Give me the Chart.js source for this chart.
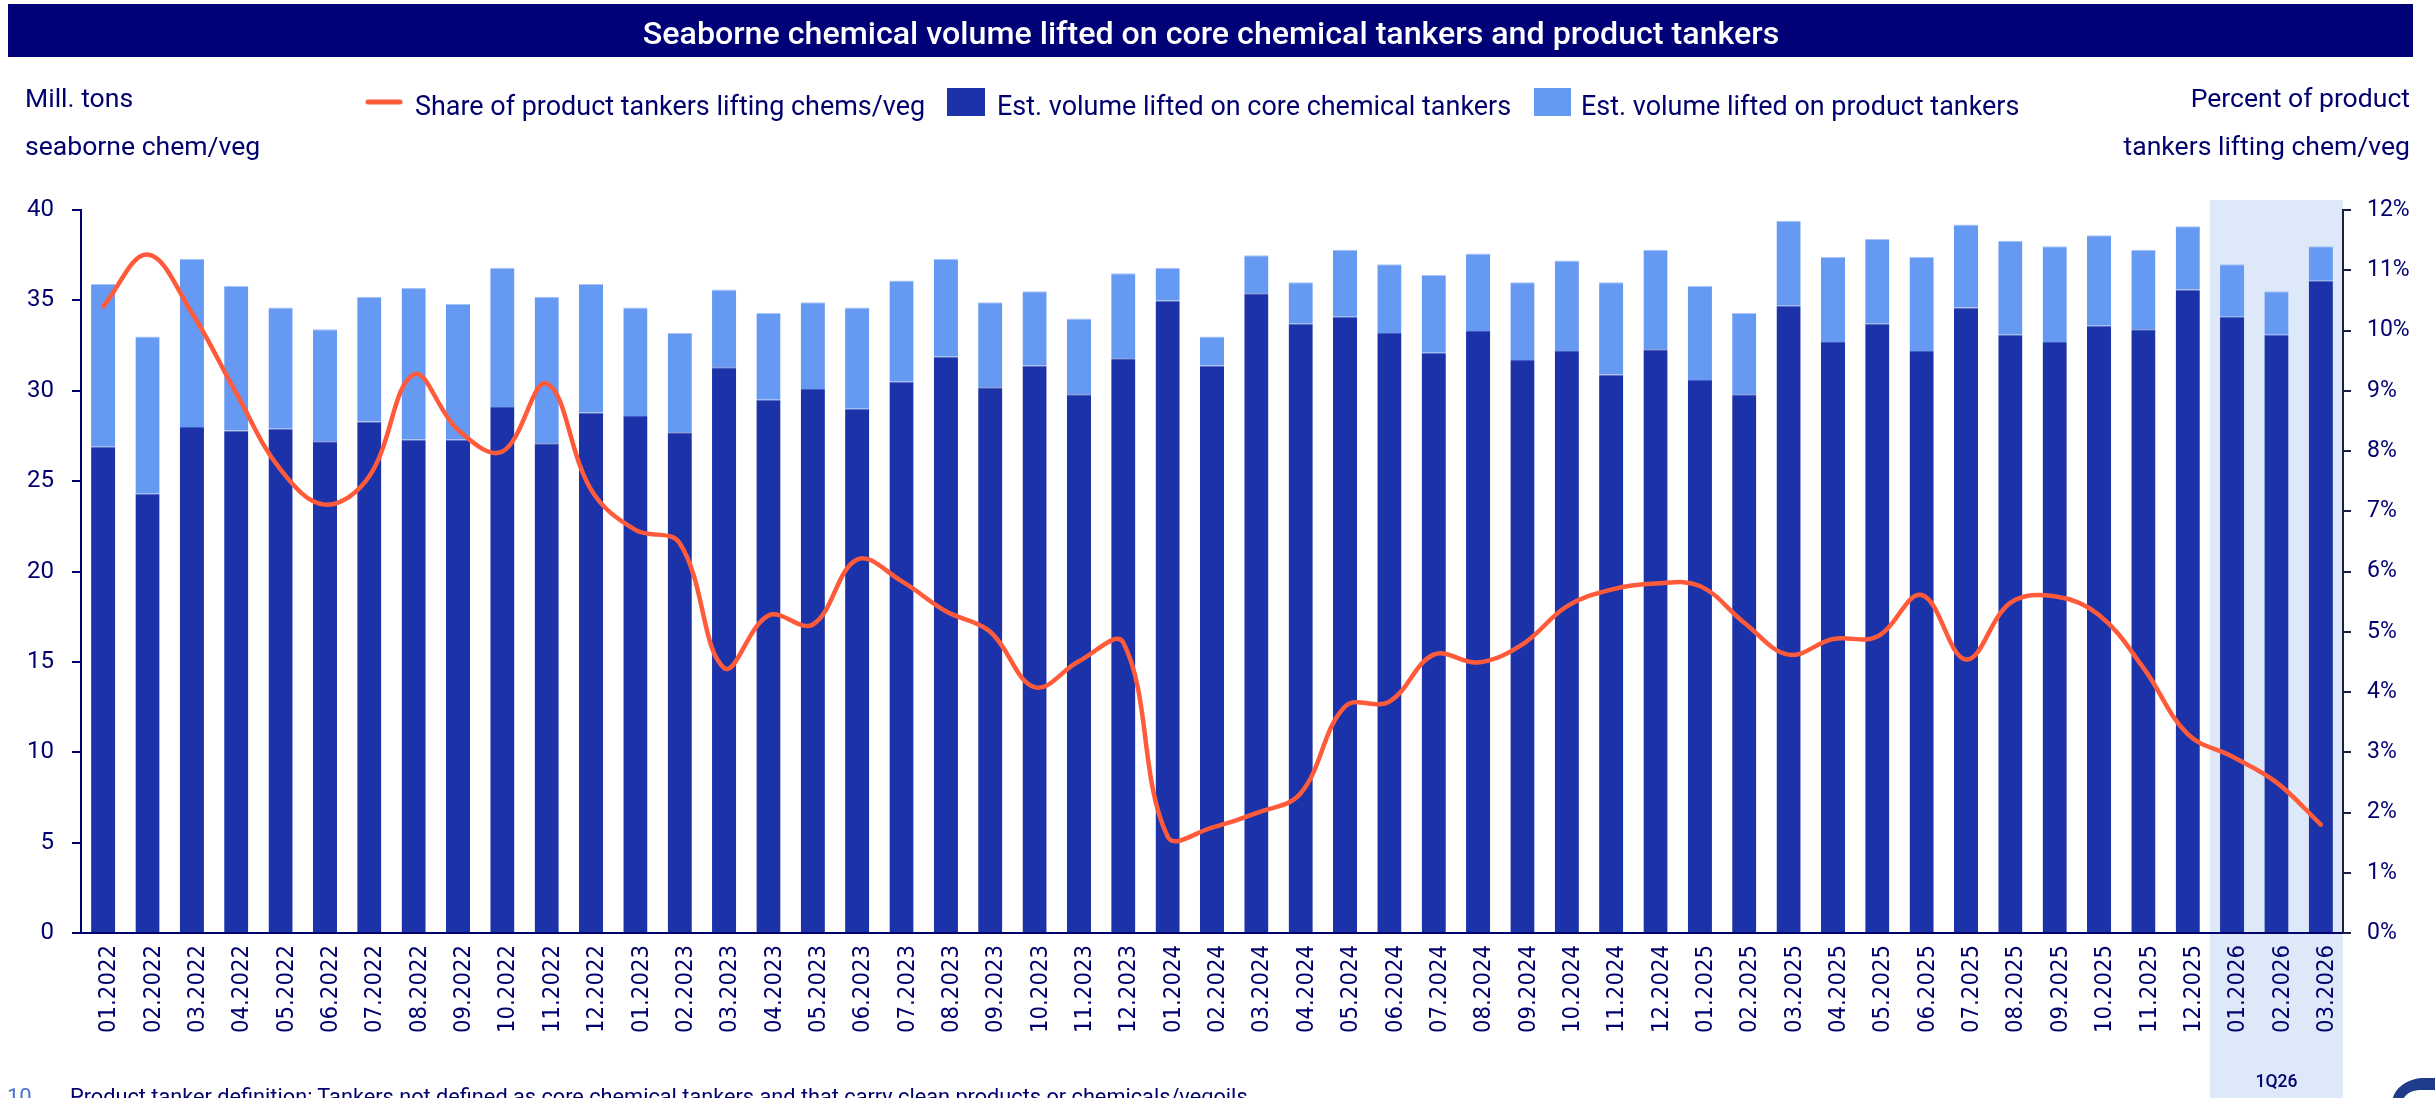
<!DOCTYPE html>
<html>
<head>
<meta charset="utf-8">
<script src="https://cdn.jsdelivr.net/npm/chart.js@4.4.1/dist/chart.umd.min.js"></script>
<style>
  html, body { margin: 0; padding: 0; background: #ffffff; width: 2435px; height: 1098px; overflow: hidden; }
  #wrap { position: relative; width: 2435px; height: 1098px; }
  #c { position: absolute; left: 0; top: 0; }
  #ov { position: absolute; left: 0; top: 0; pointer-events: none; }
</style>
</head>
<body>
<div id="wrap">
  <canvas id="c" width="2435" height="1098"></canvas>
  <svg id="ov" width="2435" height="1098" xmlns="http://www.w3.org/2000/svg"></svg>
</div>
<script>
// ---------------- DATA ----------------
const categories = [
  '01.2022','02.2022','03.2022','04.2022','05.2022','06.2022','07.2022','08.2022','09.2022','10.2022','11.2022','12.2022',
  '01.2023','02.2023','03.2023','04.2023','05.2023','06.2023','07.2023','08.2023','09.2023','10.2023','11.2023','12.2023',
  '01.2024','02.2024','03.2024','04.2024','05.2024','06.2024','07.2024','08.2024','09.2024','10.2024','11.2024','12.2024',
  '01.2025','02.2025','03.2025','04.2025','05.2025','06.2025','07.2025','08.2025','09.2025','10.2025','11.2025','12.2025',
  '01.2026','02.2026','03.2026'
];
// Mill. tons lifted on core chemical tankers
const coreVolume = [
  26.9, 24.3, 28.0, 27.8, 27.9, 27.2, 28.3, 27.3, 27.3, 29.1, 27.1, 28.8,
  28.6, 27.7, 31.3, 29.5, 30.1, 29.0, 30.5, 31.9, 30.2, 31.4, 29.8, 31.8,
  35.0, 31.4, 35.4, 33.7, 34.1, 33.2, 32.1, 33.3, 31.7, 32.2, 30.9, 32.3,
  30.6, 29.8, 34.7, 32.7, 33.7, 32.2, 34.6, 33.1, 32.7, 33.6, 33.4, 35.6,
  34.1, 33.1, 36.1
];
// Mill. tons lifted on product tankers
const productVolume = [
  9.0, 8.7, 9.3, 8.0, 6.7, 6.2, 6.9, 8.4, 7.5, 7.7, 8.1, 7.1,
  6.0, 5.5, 4.3, 4.8, 4.8, 5.6, 5.6, 5.4, 4.7, 4.1, 4.2, 4.7,
  1.8, 1.6, 2.1, 2.3, 3.7, 3.8, 4.3, 4.3, 4.3, 5.0, 5.1, 5.5,
  5.2, 4.5, 4.7, 4.7, 4.7, 5.2, 4.6, 5.2, 5.3, 5.0, 4.4, 3.5,
  2.9, 2.4, 1.9
];
// Percent of product tankers lifting chem/veg
const productShare = [
  10.4, 11.26, 10.29, 8.96, 7.69, 7.11, 7.58, 9.27, 8.35, 7.99, 9.12, 7.36,
  6.69, 6.47, 4.40, 5.27, 5.12, 6.20, 5.84, 5.34, 5.00, 4.08, 4.51, 4.82,
  1.60, 1.75, 1.99, 2.32, 3.76, 3.84, 4.62, 4.49, 4.79, 5.42, 5.70, 5.80,
  5.76, 5.15, 4.62, 4.88, 4.92, 5.61, 4.54, 5.48, 5.59, 5.28, 4.40, 3.30,
  2.93, 2.50, 1.80
];
const seriesNames = [
  'Share of product tankers lifting chems/veg',
  'Est. volume lifted on core chemical tankers',
  'Est. volume lifted on product tankers'
];
const volumeAxisRange = [0, 40];
const volumeAxisStep = 5;
const shareAxisRange = [0, 12];
const shareAxisStep = 1;
const shareTickSuffix = '%';
const highlightCategories = ['01.2026', '02.2026', '03.2026'];
const highlightLabel = '1Q26';
const titleText = 'Seaborne chemical volume lifted on core chemical tankers and product tankers';
const leftAxisTitle = ['Mill. tons', 'seaborne chem/veg'];
const rightAxisTitle = ['Percent of product', 'tankers lifting chem/veg'];
const pageNumber = '10';
const footnoteText = 'Product tanker definition: Tankers not defined as core chemical tankers and that carry clean products or chemicals/vegoils';

// ---------------- STYLE ----------------
const NAVY = '#00006f';
const TITLE_BG = '#000077';
const DARK = '#1b32a9';
const LIGHT = '#6699f2';
const ORANGE = '#ff5b3b';
const HL = '#dde8f9';
const RIGHT_AXIS = '#1e1e3e';
const UI_FONT = "Roboto, 'Liberation Sans', sans-serif";
const X_FONT = "'Liberation Sans Narrow', 'DejaVu Sans Condensed', sans-serif";

function fitFontSize(family, text, targetWidth, weight) {
  const c = document.createElement('canvas').getContext('2d');
  c.font = (weight || 'normal') + ' 100px ' + family;
  return 100 * targetWidth / c.measureText(text).width;
}
const xTickSize = fitFontSize(X_FONT, '01.2022', 88);

// ---------------- HIGHLIGHT PLUGIN ----------------
const highlightPlugin = {
  id: 'quarterHighlight',
  beforeDraw(chart) {
    const x = chart.scales.x;
    const ctx = chart.ctx;
    const i0 = categories.indexOf(highlightCategories[0]);
    const i1 = categories.indexOf(highlightCategories[highlightCategories.length - 1]);
    const half = (x.getPixelForValue(1) - x.getPixelForValue(0)) / 2;
    const left = x.getPixelForValue(i0) - half;
    const right = x.getPixelForValue(i1) + half;
    const top = chart.chartArea.top - 10;
    ctx.save();
    ctx.fillStyle = HL;
    ctx.fillRect(left, top, right - left, chart.height - top);
    ctx.restore();
  }
};

// ---------------- CHART ----------------
const ctx = document.getElementById('c').getContext('2d');
const chart = new Chart(ctx, {
  type: 'bar',
  data: {
    labels: categories,
    datasets: [
      {
        type: 'line', label: seriesNames[0], data: productShare, yAxisID: 'y2',
        borderColor: ORANGE, backgroundColor: ORANGE, borderWidth: 4.5, pointRadius: 0,
        tension: 0.38, fill: false, order: 0, borderCapStyle: 'round', borderJoinStyle: 'round'
      },
      {
        type: 'bar', label: seriesNames[1], data: coreVolume, yAxisID: 'y', stack: 'vol',
        backgroundColor: DARK, borderColor: '#3f5cc8', borderWidth: { top: 1 }, borderSkipped: false,
        categoryPercentage: 1, barPercentage: 0.545, order: 1
      },
      {
        type: 'bar', label: seriesNames[2], data: productVolume, yAxisID: 'y', stack: 'vol',
        backgroundColor: LIGHT, borderColor: '#a8c3fa', borderWidth: { top: 1 }, borderSkipped: false,
        categoryPercentage: 1, barPercentage: 0.545, order: 1
      }
    ]
  },
  options: {
    responsive: false, animation: false, devicePixelRatio: 1,
    layout: { padding: { top: 210, left: 0, right: 0, bottom: 0 } },
    plugins: { legend: { display: false }, title: { display: false }, tooltip: { enabled: false } },
    scales: {
      x: {
        stacked: true, offset: true, z: 1,
        grid: { display: false, drawTicks: false },
        border: { display: true, color: NAVY, width: 2 },
        ticks: {
          autoSkip: false, minRotation: 90, maxRotation: 90, color: NAVY,
          font: { family: X_FONT, size: xTickSize }, padding: 12, labelOffset: 6
        },
        afterFit(s) { s.height = 165; }
      },
      y: {
        position: 'left', stacked: true, min: volumeAxisRange[0], max: volumeAxisRange[1], z: 1,
        ticks: { stepSize: volumeAxisStep, color: NAVY, font: { family: UI_FONT, size: 24 }, padding: 18 },
        grid: { display: true, drawOnChartArea: false, drawTicks: true, tickLength: 9, color: NAVY, lineWidth: 2 },
        border: { display: true, color: NAVY, width: 2 },
        afterFit(s) { s.width = 81; }
      },
      y2: {
        position: 'right', stacked: false, min: shareAxisRange[0], max: shareAxisRange[1], z: 1,
        ticks: { stepSize: shareAxisStep, color: NAVY, font: { family: UI_FONT, size: 23 }, padding: 16,
                 callback: v => v + shareTickSuffix },
        grid: { display: true, drawOnChartArea: false, drawTicks: true, tickLength: 8, color: RIGHT_AXIS, lineWidth: 2 },
        border: { display: true, color: RIGHT_AXIS, width: 2 },
        afterFit(s) { s.width = 92; }
      }
    }
  },
  plugins: [highlightPlugin]
});

// ---------------- SVG OVERLAY (title, legend, axis titles, notes) ----------------
const svg = document.getElementById('ov');
const NS = 'http://www.w3.org/2000/svg';
function el(tag, attrs, text) {
  const e = document.createElementNS(NS, tag);
  for (const k in attrs) e.setAttribute(k, attrs[k]);
  if (text != null) e.textContent = text;
  svg.appendChild(e);
  return e;
}
function fitGroup(items) {
  const sizes = items.map(([e, w]) => parseFloat(e.getAttribute('font-size')) * w / e.getComputedTextLength());
  const avg = sizes.reduce((a, b) => a + b, 0) / sizes.length;
  items.forEach(([e]) => e.setAttribute('font-size', avg.toFixed(2)));
}

// title bar
el('rect', { x: 8, y: 4, width: 2405, height: 53, fill: TITLE_BG });
const tTitle = el('text', { x: 1211, y: 44, 'text-anchor': 'middle', fill: '#ffffff',
  'font-family': UI_FONT, 'font-size': 30, 'font-weight': 500 }, titleText);
fitGroup([[tTitle, 1137]]);

// axis titles
const a1 = el('text', { x: 25, y: 107, fill: NAVY, 'font-family': UI_FONT, 'font-size': 24 }, leftAxisTitle[0]);
const a2 = el('text', { x: 25, y: 155, fill: NAVY, 'font-family': UI_FONT, 'font-size': 24 }, leftAxisTitle[1]);
const a3 = el('text', { x: 2410, y: 107, 'text-anchor': 'end', fill: NAVY, 'font-family': UI_FONT, 'font-size': 24 }, rightAxisTitle[0]);
const a4 = el('text', { x: 2410, y: 155, 'text-anchor': 'end', fill: NAVY, 'font-family': UI_FONT, 'font-size': 24 }, rightAxisTitle[1]);
fitGroup([[a1, 106], [a2, 236], [a3, 222], [a4, 288]]);

// legend
const ds = chart.data.datasets;
el('line', { x1: 368, y1: 102, x2: 400, y2: 102, stroke: ds[0].borderColor, 'stroke-width': 5, 'stroke-linecap': 'round' });
const l1 = el('text', { x: 415, y: 115, fill: NAVY, 'font-family': UI_FONT, 'font-size': 27 }, ds[0].label);
el('rect', { x: 947, y: 88, width: 38, height: 28, fill: ds[1].backgroundColor });
const l2 = el('text', { x: 997, y: 115, fill: NAVY, 'font-family': UI_FONT, 'font-size': 27 }, ds[1].label);
el('rect', { x: 1534, y: 88, width: 37, height: 28, fill: ds[2].backgroundColor });
const l3 = el('text', { x: 1581, y: 115, fill: NAVY, 'font-family': UI_FONT, 'font-size': 27 }, ds[2].label);
fitGroup([[l1, 510], [l2, 514], [l3, 439]]);

// quarter label inside highlight
const xs = chart.scales.x;
const qx = xs.getPixelForValue(categories.indexOf(highlightCategories[1]));
const q = el('text', { x: qx, y: 1087, 'text-anchor': 'middle', fill: NAVY, 'font-family': UI_FONT,
  'font-size': 24, 'font-weight': 500 }, highlightLabel);
fitGroup([[q, 42]]);

// footnote (partly cut off at page bottom)
el('text', { x: 7, y: 1104, fill: '#4d72d6', 'font-family': UI_FONT, 'font-size': 22 }, pageNumber);
const fn = el('text', { x: 70, y: 1104, fill: NAVY, 'font-family': UI_FONT, 'font-size': 24 }, footnoteText);
fitGroup([[fn, 1178]]);

// corner logo fragment
el('path', { d: 'M2393 1098 C2396 1086 2410 1078 2424 1078 L2435 1078 L2435 1090 L2420 1090 C2412 1090 2406 1094 2404 1098 Z', fill: '#1f3c8c' });
</script>
</body>
</html>
